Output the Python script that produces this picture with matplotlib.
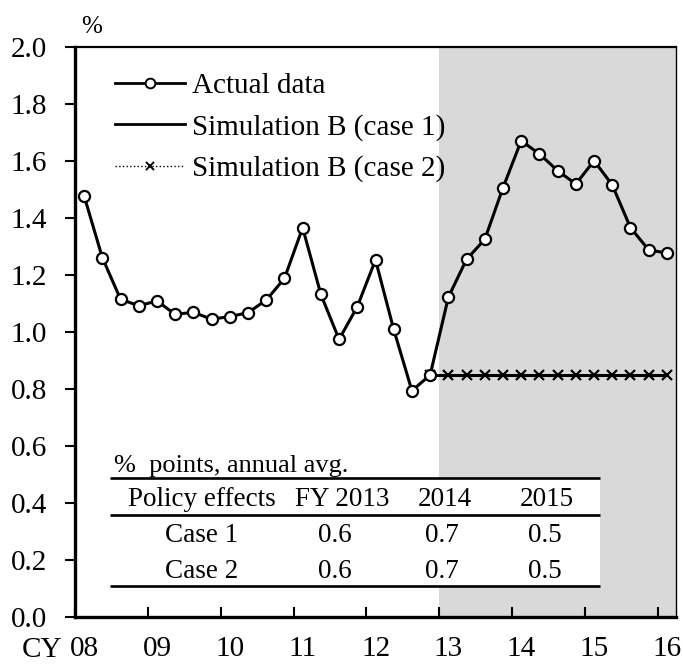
import matplotlib
matplotlib.use("Agg")
import matplotlib.pyplot as plt
from matplotlib.lines import Line2D
from matplotlib.patches import Rectangle

plt.rcParams['font.family'] = ['Liberation Serif', 'DejaVu Serif']

# ---- data ----
actual = [1.478, 1.261, 1.115, 1.092, 1.109, 1.062, 1.069, 1.045, 1.054, 1.068,
          1.112, 1.188, 1.366, 1.132, 0.974, 1.089, 1.253, 1.009, 0.794, 0.849,
          1.122, 1.255, 1.325, 1.506, 1.671, 1.625, 1.566, 1.519, 1.601, 1.516,
          1.366, 1.288, 1.277]
sim_case1 = [0.85] * 14   # 2012Q4 .. 2016Q1
sim_case2 = [0.85] * 14
sim_start = 19            # index of 2012Q4
year_labels = ['08', '09', '10', '11', '12', '13', '14', '15', '16']
yticks = [0.0, 0.2, 0.4, 0.6, 0.8, 1.0, 1.2, 1.4, 1.6, 1.8, 2.0]
table_title = '%  points, annual avg.'
table_header = ['Policy effects', 'FY 2013', '2014', '2015']
table_rows = [['Case 1', '0.6', '0.7', '0.5'],
              ['Case 2', '0.6', '0.7', '0.5']]

W, H = 683, 664
fig = plt.figure(figsize=(W / 100, H / 100), dpi=100)
ax = fig.add_axes([75 / W, 1 - 617 / H, (676 - 75) / W, (617 - 47) / H])

n = len(actual)
x = [i + 0.5 for i in range(n)]
xs = [i + 0.5 for i in range(sim_start, sim_start + len(sim_case1))]

ax.axvspan(20, 33, color='#d9d9d9', zorder=0, lw=0)

ax.plot(xs, sim_case1, color='black', lw=2.2, zorder=3)
ax.plot(xs, sim_case2, color='black', lw=1.0, ls=':', marker='x',
        markersize=6.5, markeredgewidth=1.6, zorder=3)
ax.plot(x, actual, color='black', lw=2.2, marker='o', markersize=8,
        markerfacecolor='white', markeredgecolor='black', markeredgewidth=1.6,
        zorder=4)

ax.set_xlim(0, 33)
ax.set_ylim(0, 2.0)

# ticks
ax.set_xticks(range(0, 33, 4))
ax.set_xticklabels([])
ax.tick_params(axis='x', which='major', direction='in', length=7, width=1.5)
ax.set_xticks([4 * k + 0.5 for k in range(len(year_labels))], minor=True)
ax.set_xticklabels(year_labels, minor=True, fontsize=21)
ax.tick_params(axis='x', which='minor', length=0, pad=14)
ax.set_yticks(yticks)
ax.set_yticklabels([f'{v:.1f}' for v in yticks], fontsize=21)
ax.tick_params(axis='y', direction='out', length=7, width=1.5, pad=13)

for s in ['left', 'bottom']:
    ax.spines[s].set_linewidth(2.4)
ax.spines['top'].set_linewidth(1.6)
ax.spines['right'].set_linewidth(1.0)

fig.text(42 / W, 1 - 650 / H, 'CY', fontsize=21, ha='center', va='center')
fig.text(92 / W, 1 - 27 / H, '%', fontsize=18, ha='center', va='center')

# legend
handles = [
    Line2D([], [], color='black', lw=2.0, marker='o', markersize=7,
           markerfacecolor='white', markeredgewidth=1.4),
    Line2D([], [], color='black', lw=2.0),
    Line2D([], [], color='black', lw=1.0, ls=':', marker='x', markersize=6,
           markeredgewidth=1.4),
]
ax.legend(handles, ['Actual data', 'Simulation B (case 1)', 'Simulation B (case 2)'],
          loc='upper left', bbox_to_anchor=(0.066, 0.955), frameon=False,
          fontsize=21, handlelength=2.4, handletextpad=0.24, labelspacing=0.50,
          borderpad=0, borderaxespad=0, markerscale=1)

# table
def px2d(px, py):
    return (px - 75) / (601 / 33), (617 - py) / 285

x0, y0 = px2d(110, 586)
x1, y1 = px2d(600, 478)
ax.add_patch(Rectangle((x0, y0), x1 - x0, y1 - y0, facecolor='white',
                       edgecolor='none', zorder=5))
for py in (478, 515, 586):
    ax.plot([x0, x1], [px2d(0, py)[1]] * 2, color='black', lw=1.9, zorder=6,
            solid_capstyle='butt')

tx, ty = px2d(114, 466)
ax.text(tx, ty, table_title, fontsize=19, ha='left', va='center', zorder=6)
hdr_px = [202, 342, 445, 547]
val_px = [202, 335, 442, 545]
hy = px2d(0, 499)[1]
for label, p in zip(table_header, hdr_px):
    ax.text(px2d(p, 0)[0], hy, label, fontsize=19.5, ha='center', va='center', zorder=6)
for row, py in zip(table_rows, (535, 572)):
    ry = px2d(0, py)[1]
    for label, p in zip(row, val_px):
        ax.text(px2d(p, 0)[0], ry, label, fontsize=19.5, ha='center', va='center', zorder=6)

fig.savefig('out.png', dpi=100)
